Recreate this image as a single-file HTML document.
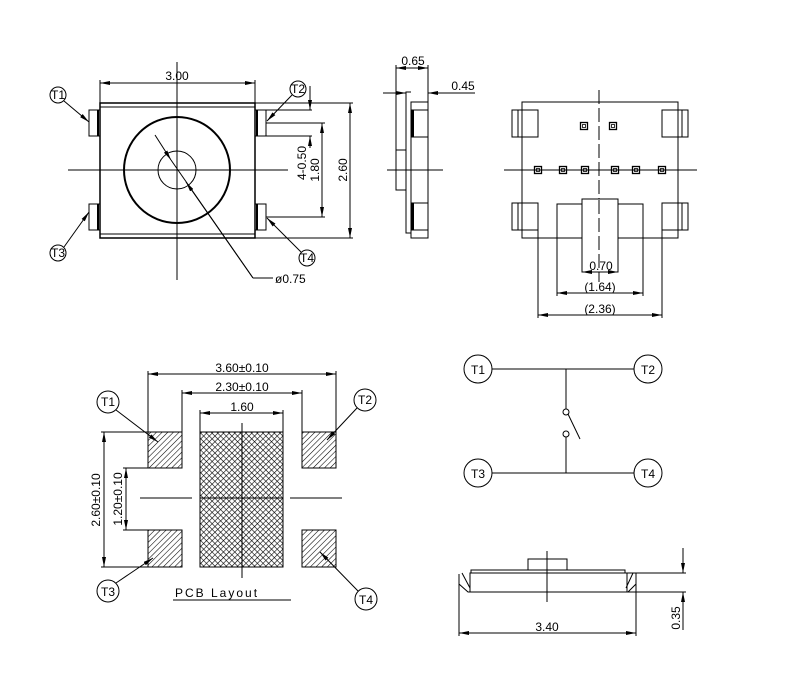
<!DOCTYPE html>
<html><head><style>
html,body{margin:0;padding:0;background:#fff;}
svg{display:block;}
text{font-family:"Liberation Sans Narrow","Liberation Sans",sans-serif;font-size:12px;fill:#000;}
</style></head><body>
<svg width="800" height="698" viewBox="0 0 800 698" xmlns="http://www.w3.org/2000/svg">
<defs>
<marker id="a" viewBox="0 0 10 4" refX="10" refY="2" markerWidth="10" markerHeight="4" orient="auto-start-reverse" markerUnits="userSpaceOnUse"><path d="M0,0 L10,2 L0,4 z" fill="#000"/></marker>
<pattern id="h" width="4" height="4" patternUnits="userSpaceOnUse" patternTransform="rotate(45)"><line x1="0" y1="0" x2="0" y2="4" stroke="#000" stroke-width="1.1"/></pattern>
<pattern id="x" width="4" height="4" patternUnits="userSpaceOnUse" patternTransform="rotate(45)"><line x1="0" y1="0" x2="0" y2="4" stroke="#000" stroke-width="1.2"/><line x1="0" y1="0" x2="4" y2="0" stroke="#000" stroke-width="1.2"/></pattern>
</defs>
<g fill="none" stroke="#000" stroke-width="1">
<rect x="100" y="103" width="155" height="135" stroke-width="1.5"/>
<line x1="100" y1="107" x2="255" y2="107"/><line x1="100" y1="234" x2="255" y2="234"/>
<rect x="89" y="110" width="11" height="26"/><rect x="89" y="204" width="11" height="26"/>
<rect x="255" y="110" width="11" height="26"/><rect x="255" y="204" width="11" height="26"/>
<line x1="98" y1="110" x2="98" y2="136" stroke-width="2"/><line x1="98" y1="204" x2="98" y2="230" stroke-width="2"/>
<line x1="257" y1="110" x2="257" y2="136" stroke-width="2"/><line x1="257" y1="204" x2="257" y2="230" stroke-width="2"/>
<circle cx="177" cy="170" r="53" stroke-width="2"/>
<circle cx="177" cy="170" r="19"/>
<line x1="177" y1="62" x2="177" y2="280"/><line x1="68" y1="170" x2="288" y2="170"/>
<line x1="100" y1="80" x2="100" y2="103"/><line x1="255" y1="80" x2="255" y2="103"/>
<line x1="100" y1="83" x2="255" y2="83" marker-start="url(#a)" marker-end="url(#a)"/>
<line x1="255" y1="103" x2="353" y2="103"/><line x1="255" y1="238" x2="353" y2="238"/>
<line x1="350" y1="103" x2="350" y2="238" marker-start="url(#a)" marker-end="url(#a)"/>
<line x1="266" y1="123" x2="325" y2="123"/><line x1="266" y1="217" x2="325" y2="217"/>
<line x1="322" y1="123" x2="322" y2="217" marker-start="url(#a)" marker-end="url(#a)"/>
<line x1="266" y1="110" x2="312" y2="110"/><line x1="266" y1="136" x2="312" y2="136"/>
<line x1="310" y1="86" x2="310" y2="110" marker-end="url(#a)"/>
<line x1="310" y1="148" x2="310" y2="136" marker-end="url(#a)"/>
<line x1="155" y1="135" x2="171" y2="160" marker-end="url(#a)"/>
<line x1="171" y1="160" x2="253" y2="278"/>
<line x1="253" y1="278" x2="186" y2="182" marker-end="url(#a)"/>
<line x1="253" y1="278" x2="273" y2="278"/>
<circle cx="58" cy="95" r="8"/><line x1="64" y1="101" x2="89" y2="122" marker-end="url(#a)"/>
<circle cx="298" cy="89" r="8"/><line x1="292" y1="95" x2="267" y2="121" marker-end="url(#a)"/>
<circle cx="58" cy="253" r="8"/><line x1="64" y1="247" x2="89" y2="212" marker-end="url(#a)"/>
<circle cx="307" cy="258" r="8"/><line x1="301" y1="252" x2="267" y2="218" marker-end="url(#a)"/>
<rect x="411" y="102" width="17" height="136"/>
<rect x="412" y="110" width="16" height="27"/><rect x="412" y="203" width="16" height="27"/>
<line x1="413" y1="110" x2="413" y2="137" stroke-width="2"/><line x1="413" y1="203" x2="413" y2="230" stroke-width="2"/>
<polyline points="411,92 406,92 406,233 411,233"/>
<rect x="396" y="150" width="10" height="40"/>
<line x1="396" y1="65" x2="396" y2="150"/><line x1="428" y1="65" x2="428" y2="102"/>
<line x1="387" y1="170" x2="443" y2="170"/>
<line x1="396" y1="68" x2="428" y2="68" marker-start="url(#a)" marker-end="url(#a)"/>
<line x1="383" y1="93" x2="406" y2="93" marker-end="url(#a)"/>
<line x1="475" y1="93" x2="428" y2="93" marker-end="url(#a)"/>
<rect x="522" y="102" width="156" height="136"/>
<rect x="512" y="110" width="26" height="27"/><line x1="518" y1="110" x2="518" y2="137"/>
<rect x="512" y="203" width="26" height="27"/><line x1="518" y1="203" x2="518" y2="230"/>
<rect x="662" y="110" width="26" height="27"/><line x1="682" y1="110" x2="682" y2="137"/>
<rect x="662" y="203" width="26" height="27"/><line x1="682" y1="203" x2="682" y2="230"/>
<g id="sq"><rect x="580.5" y="122.5" width="7" height="7" stroke-width="1.3"/><rect x="582.5" y="124.5" width="3" height="3" stroke-width="0.8"/></g>
<use href="#sq" x="29"/>
<use href="#sq" x="-46" y="44"/><use href="#sq" x="-21" y="44"/><use href="#sq" x="1" y="44"/>
<use href="#sq" x="31" y="44"/><use href="#sq" x="52" y="44"/><use href="#sq" x="78" y="44"/>
<line x1="504" y1="170" x2="697" y2="170"/>
<line x1="599" y1="90" x2="599" y2="282" stroke-dasharray="14,4"/>
<polyline points="557,238 557,204 643,204 643,238"/>
<rect x="582" y="199" width="36" height="73" fill="#fff"/>
<line x1="599" y1="200" x2="599" y2="282" stroke-dasharray="14,4"/>
<line x1="582" y1="272" x2="618" y2="272" marker-start="url(#a)" marker-end="url(#a)"/>
<line x1="557" y1="238" x2="557" y2="296"/><line x1="643" y1="238" x2="643" y2="296"/>
<line x1="557" y1="293" x2="643" y2="293" marker-start="url(#a)" marker-end="url(#a)"/>
<line x1="538" y1="230" x2="538" y2="318"/><line x1="662" y1="230" x2="662" y2="318"/>
<line x1="538" y1="315" x2="662" y2="315" marker-start="url(#a)" marker-end="url(#a)"/>
<rect x="148" y="432" width="34" height="36" fill="url(#h)"/>
<rect x="302" y="432" width="34" height="36" fill="url(#h)"/>
<rect x="148" y="530" width="34" height="37" fill="url(#h)"/>
<rect x="302" y="530" width="34" height="37" fill="url(#h)"/>
<rect x="200" y="432" width="83" height="135" fill="url(#x)"/>
<line x1="242" y1="423" x2="242" y2="578"/>
<line x1="140" y1="498" x2="192" y2="498"/><line x1="200" y1="498" x2="283" y2="498"/><line x1="290" y1="498" x2="342" y2="498"/>
<line x1="148" y1="371" x2="148" y2="432"/><line x1="336" y1="371" x2="336" y2="432"/>
<line x1="148" y1="374" x2="336" y2="374" marker-start="url(#a)" marker-end="url(#a)"/>
<line x1="182" y1="390" x2="182" y2="432"/><line x1="302" y1="390" x2="302" y2="432"/>
<line x1="182" y1="393" x2="302" y2="393" marker-start="url(#a)" marker-end="url(#a)"/>
<line x1="200" y1="410" x2="200" y2="432"/><line x1="283" y1="410" x2="283" y2="432"/>
<line x1="200" y1="413" x2="283" y2="413" marker-start="url(#a)" marker-end="url(#a)"/>
<line x1="101" y1="432" x2="148" y2="432"/><line x1="101" y1="567" x2="148" y2="567"/>
<line x1="104" y1="432" x2="104" y2="567" marker-start="url(#a)" marker-end="url(#a)"/>
<line x1="123" y1="468" x2="148" y2="468"/><line x1="123" y1="530" x2="148" y2="530"/>
<line x1="126" y1="468" x2="126" y2="530" marker-start="url(#a)" marker-end="url(#a)"/>
<circle cx="108" cy="402" r="11"/><line x1="116" y1="410" x2="158" y2="442" marker-end="url(#a)"/>
<circle cx="365" cy="400" r="11"/><line x1="357" y1="408" x2="327" y2="440" marker-end="url(#a)"/>
<circle cx="108" cy="591" r="11"/><line x1="116" y1="583" x2="153" y2="558" marker-end="url(#a)"/>
<circle cx="366" cy="599" r="11"/><line x1="358" y1="591" x2="320" y2="552" marker-end="url(#a)"/>
<line x1="173" y1="600" x2="291" y2="600"/>
<circle cx="478" cy="369" r="14"/><circle cx="648" cy="369" r="14"/>
<circle cx="478" cy="473" r="14"/><circle cx="648" cy="473" r="14"/>
<line x1="492" y1="369" x2="634" y2="369"/><line x1="492" y1="473" x2="634" y2="473"/>
<line x1="566" y1="369" x2="566" y2="409"/>
<circle cx="566" cy="412" r="3"/><circle cx="566" cy="434" r="3"/>
<line x1="566" y1="437" x2="566" y2="473"/>
<line x1="568" y1="414" x2="580" y2="439"/>
<rect x="528" y="559" width="39" height="11"/>
<rect x="471" y="570" width="154" height="3"/>
<rect x="470" y="573" width="157" height="19"/>
<line x1="547" y1="551" x2="547" y2="602"/>
<polyline points="459,574 459,584 468,592 470,592"/>
<polyline points="462,573 470,588"/>
<polyline points="636,573 636,584 628,592 627,592"/>
<polyline points="633,573 626,588"/>
<line x1="627" y1="573" x2="686" y2="573"/><line x1="627" y1="592" x2="686" y2="592"/>
<line x1="683" y1="548" x2="683" y2="573" marker-end="url(#a)"/>
<line x1="683" y1="630" x2="683" y2="592" marker-end="url(#a)"/>
<line x1="459" y1="584" x2="459" y2="636"/><line x1="636" y1="584" x2="636" y2="636"/>
<line x1="459" y1="633" x2="636" y2="633" marker-start="url(#a)" marker-end="url(#a)"/>
</g>
<text x="177" y="80" text-anchor="middle">3.00</text>
<text transform="translate(347,170) rotate(-90)" text-anchor="middle">2.60</text>
<text transform="translate(319,170) rotate(-90)" text-anchor="middle">1.80</text>
<text transform="translate(306,163) rotate(-90)" text-anchor="middle">4-0.50</text>
<text x="275" y="283">ø0.75</text>
<text x="58" y="99" text-anchor="middle" font-size="11">T1</text>
<text x="298" y="93" text-anchor="middle" font-size="11">T2</text>
<text x="58" y="257" text-anchor="middle" font-size="11">T3</text>
<text x="307" y="262" text-anchor="middle" font-size="11">T4</text>
<text x="413" y="65" text-anchor="middle">0.65</text>
<text x="463" y="90" text-anchor="middle">0.45</text>
<text x="601" y="270" text-anchor="middle">0.70</text>
<text x="600" y="291" text-anchor="middle">(1.64)</text>
<text x="600" y="313" text-anchor="middle">(2.36)</text>
<text x="242" y="372" text-anchor="middle">3.60±0.10</text>
<text x="242" y="391" text-anchor="middle">2.30±0.10</text>
<text x="242" y="411" text-anchor="middle">1.60</text>
<text transform="translate(100,500) rotate(-90)" text-anchor="middle">2.60±0.10</text>
<text transform="translate(122,499) rotate(-90)" text-anchor="middle">1.20±0.10</text>
<text x="108" y="406" text-anchor="middle" font-size="13">T1</text>
<text x="365" y="404" text-anchor="middle" font-size="13">T2</text>
<text x="108" y="596" text-anchor="middle" font-size="13">T3</text>
<text x="366" y="604" text-anchor="middle" font-size="13">T4</text>
<text x="175" y="597" font-size="15" style="letter-spacing:2px">PCB  Layout</text>
<text x="478" y="374" text-anchor="middle" font-size="14">T1</text>
<text x="648" y="374" text-anchor="middle" font-size="14">T2</text>
<text x="478" y="478" text-anchor="middle" font-size="14">T3</text>
<text x="648" y="478" text-anchor="middle" font-size="14">T4</text>
<text x="547" y="631" text-anchor="middle">3.40</text>
<text transform="translate(680,618) rotate(-90)" text-anchor="middle">0.35</text>
</svg>
</body></html>
